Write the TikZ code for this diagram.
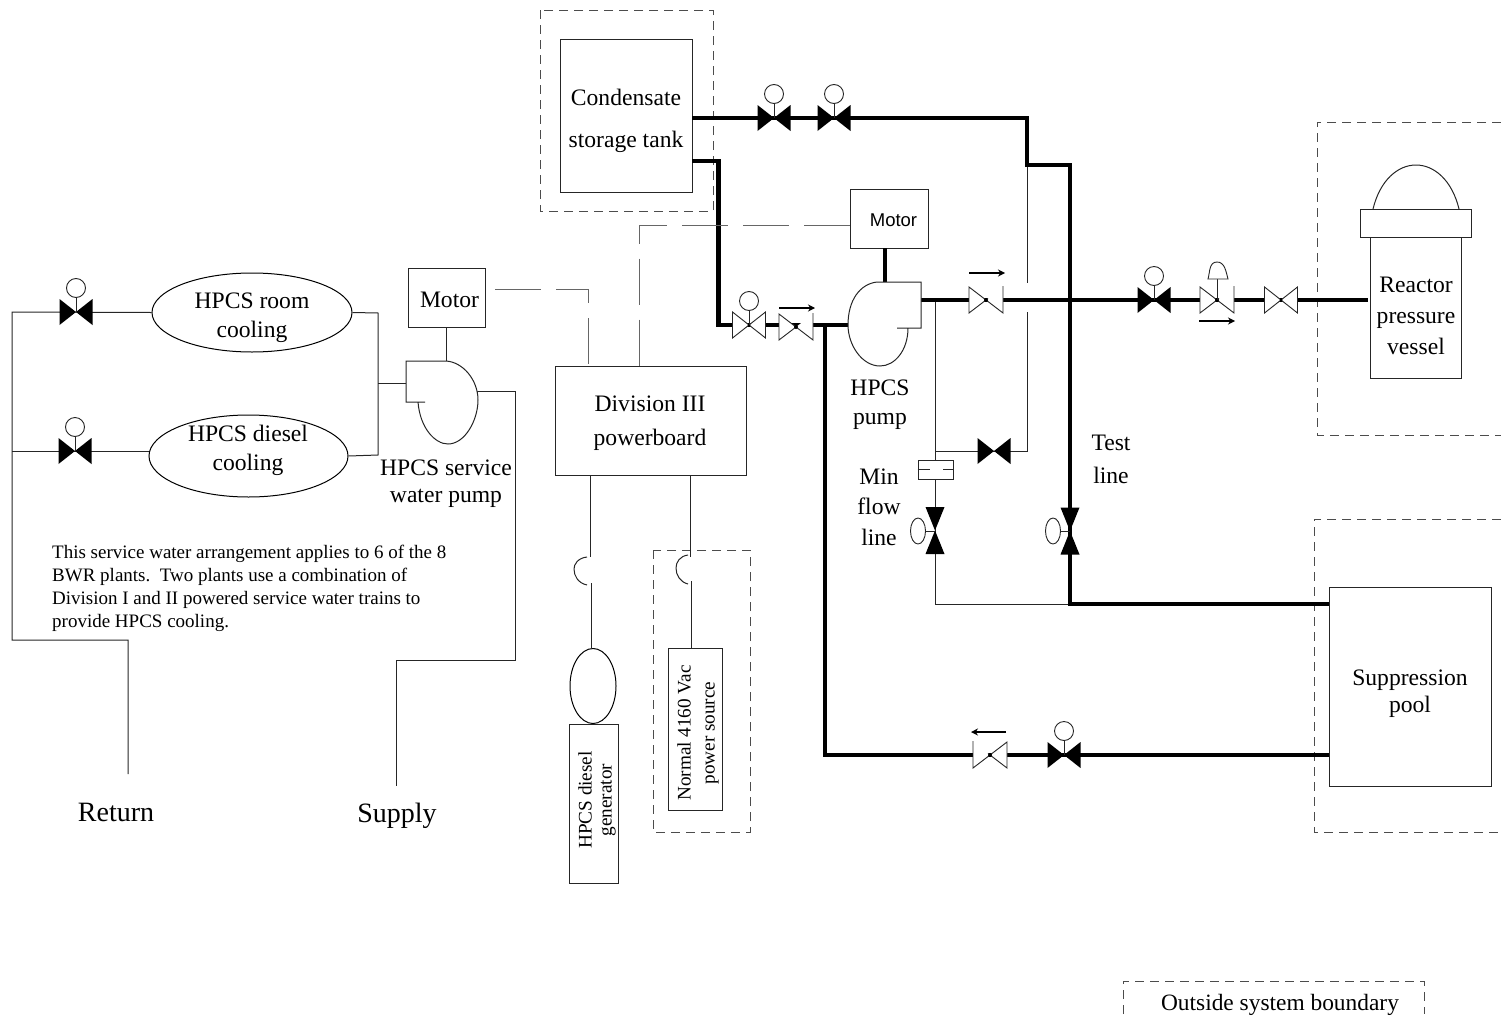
\documentclass[tikz,border=0pt]{standalone}
\usepackage{fontspec}
\usetikzlibrary{arrows.meta,shapes.geometric}
\setmainfont{Liberation Serif}
\newfontfamily\helv{Liberation Sans}
\newcommand{\fsz}[2]{\fontsize{#1}{#2}\selectfont}
\tikzset{
  x=1pt,y=-1pt,
  thin line/.style={line width=1pt,draw=black!85},
  pipe/.style={line width=4.6pt,draw=black,line join=miter},
  bound/.style={line width=1pt,draw=black!70,dash pattern=on 9pt off 6pt},
  signal/.style={line width=1pt,draw=black!60,dash pattern=on 46pt off 15pt},
  box/.style={draw=black!85,line width=1pt,fill=white,inner sep=0pt},
  lbl/.style={inner sep=0pt,align=center},
  flow/.style={line width=1.6pt,-{Stealth[length=7pt,width=7pt]}},
  vfill/.pic={\fill[black] (-16.5,-13)--(16.5,13)--(16.5,-13)--(-16.5,13)--cycle;},
  vfillup/.pic={\fill[black] (-9.5,-23.5)--(9.5,23.5)--(-9.5,23.5)--(9.5,-23.5)--cycle;},
  vopen/.pic={\draw[black!85,line width=.9pt,fill=white] (-16.5,-13)--(16.5,13)--(16.5,-13)--(-16.5,13)--cycle;
     \fill[black] (0,0) circle (1.5pt);},
  vcheck/.pic={\fill[white] (-17,-13)--(17,13)--(17,-13)--(-17,13)--cycle;
     \draw[black!85,line width=.9pt] (17,-14)--(17,13)--(0,0) (0,0)--(-17,-13)--(-17,13)--cycle;
     \fill[black] (0,0) circle (2pt);},
  opcirc/.pic={\draw[black!85,line width=.9pt] (0,0)--(0,-14);
     \draw[black!85,line width=.9pt,fill=white] (0,-24) circle (9.5pt);},
  opside/.pic={\draw[black!85,line width=.9pt] (0,0)--(-10,0);
     \draw[black!85,line width=.9pt,fill=white] (-17,0) ellipse (7.5pt and 13pt);},
}
\begin{document}
\begin{tikzpicture}
\useasboundingbox (0,0) rectangle (1501,1017);

% ---- boundaries
\draw[bound] (540,10) rectangle (713,211);
\draw[bound] (1501,122) -- (1317,122) -- (1317,435) -- (1501,435);
\draw[bound] (1501,519) -- (1314,519) -- (1314,832) -- (1501,832);
\draw[bound] (653,550) rectangle (750,832);
\draw[bound] (1123,1014) -- (1123,981) -- (1424,981) -- (1424,1014);
\node[lbl,font=\fsz{23.4}{28}] (legend) at (1280,1005) {Outside system boundary};

% ---- main boxes
\node[box,minimum width=132pt,minimum height=153pt] (tank) at (626,115.5) {};
\node[box,minimum width=78pt,minimum height=59pt] (motorA) at (889,218.5) {};
\node[box,minimum width=77pt,minimum height=59pt] (motorB) at (446.5,297.5) {};
\node[box,minimum width=191pt,minimum height=109pt] (div) at (650.5,420.5) {};
\node[box,minimum width=49pt,minimum height=159pt] (dg) at (593.5,803.5) {};
\node[box,minimum width=54pt,minimum height=162pt] (normal) at (695,729) {};
\node[box,minimum width=162pt,minimum height=199pt] (pool) at (1410,686.5) {};
\node[box,draw=black,minimum width=200pt,minimum height=79pt,ellipse] (room) at (252,312.5) {};
\node[box,draw=black,minimum width=199pt,minimum height=82pt,ellipse] (diesel) at (248.5,456) {};
\node[box,draw=black,minimum width=46pt,minimum height=75pt,ellipse] (gen) at (593,686) {};

% ---- reactor vessel
\draw[black!85,line width=1pt] (1373,209) .. controls (1380,180) and (1398,165) .. (1416,165) .. controls (1434,165) and (1452,180) .. (1459,209);
\node[box,minimum width=91pt,minimum height=141pt] (rpv) at (1415.5,308) {};
\node[box,minimum width=111pt,minimum height=28pt] (flange) at (1415.5,223) {};

% ---- named pipe points
\coordinate (a1) at (692,118);  \coordinate (a2) at (1027,118); \coordinate (a3) at (1027,165);
\coordinate (a4) at (1070,165); \coordinate (a5) at (1070,604); \coordinate (a6) at (1329,604);
\coordinate (b1) at (692,161);  \coordinate (b2) at (718.5,161); \coordinate (b3) at (718.5,325);
\coordinate (b4) at (850,325);  \coordinate (c1) at (921,300);  \coordinate (c2) at (1368,300);
\coordinate (d1) at (1329,755); \coordinate (d2) at (825,755);  \coordinate (d3) at (825,325);
\coordinate (e1) at (885,248);  \coordinate (e2) at (885,282);
\coordinate (f0) at (935,300);  \coordinate (f1) at (935,604);  \coordinate (f2) at (1070,604);
\coordinate (g0) at (1027,283); \coordinate (g1) at (1027,312); \coordinate (g2) at (1027,451);
\coordinate (g3) at (935,451);

% ---- thin lines of the HPCS loop
\draw[thin line] (a3) -- (g0);
\draw[thin line] (g1) -- (g2) -- (g3);
\draw[thin line] (f0) -- (f1) -- (f2);

% ---- thick pipes
\draw[pipe] (a1) -- (a2) -- (a3) -- (a4) -- (a5) -- (a6);
\draw[pipe] (b1) -- (b2) -- (b3) -- (b4);
\draw[pipe] (c1) -- (c2);
\draw[pipe] (d1) -- (d2) -- (d3);
\draw[pipe] (e1) -- (e2);

% ---- HPCS pump
\draw[black!85,line width=1pt,fill=white] (877,282) -- (921,282) -- (921,328) -- (897,328) (908,328)
  .. controls (908,350) and (895,366) .. (880,366)
  .. controls (862,366) and (848,345) .. (848,325)
  .. controls (848,300) and (860,284) .. (877,282);

% ---- valves, main system
\pic at (774,118) {vfill}; \pic at (774,118) {opcirc};
\pic at (834,118) {vfill}; \pic at (834,118) {opcirc};
\pic at (749,325) {vopen}; \pic at (749,325) {opcirc};
\pic at (796,327) {vcheck};
\draw[flow] (779,308) -- (815,308);
\pic at (986,300) {vcheck};
\draw[flow] (969,273) -- (1005,273);
\pic at (1154,300) {vfill}; \pic at (1154,300) {opcirc};
\pic at (1217,300) {vcheck};
\draw[black!85,line width=.9pt] (1217,300) -- (1217,279);
\draw[black!85,line width=.9pt,fill=white] (1208,279) .. controls (1210,272) and (1209,262) .. (1217,262) .. controls (1225,262) and (1226,272) .. (1228,279) -- cycle;
\draw[flow] (1199,321) -- (1235,321);
\pic at (1281,300) {vopen};
\pic at (994,451) {vfill};
\pic at (1064,755) {vfill}; \pic at (1064,755) {opcirc};
\pic[xscale=-1] at (990,755) {vcheck};
\draw[flow] (1006,732) -- (971,732);
\pic at (935,530.5) {vfillup}; \pic at (935,531) {opside};
\pic at (1070,531) {vfillup}; \pic at (1070,531) {opside};

% ---- flow orifice
\node[box,minimum width=35pt,minimum height=19pt] (orifice) at (935.5,469.5) {};
\draw[black!85,line width=1pt] (orifice.west) -- ++(12,0) (orifice.east) -- ++(-11,0);

% ---- service water side
\coordinate (h0) at (378,313); \coordinate (h1) at (378,455); \coordinate (h2) at (378,383);
\coordinate (i1) at (76,312);  \coordinate (i2) at (12,312);  \coordinate (i3) at (12,640);
\coordinate (i4) at (128,640); \coordinate (i5) at (128,774); \coordinate (i6) at (12,451);
\coordinate (j1) at (477,391); \coordinate (j2) at (515,391); \coordinate (j3) at (515,660);
\coordinate (j4) at (396,660); \coordinate (j5) at (396,786);
\coordinate (k0) at (406,383); \coordinate (k1) at (446,327); \coordinate (k2) at (446,361);
\draw[thin line] (room.east) -- (h0) -- (h1) -- (diesel.east);
\draw[thin line] (h2) -- (k0);
\draw[thin line] (room.west) -- (i2) -- (i3) -- (i4) -- (i5);
\draw[thin line] (diesel.west |- i6) -- (i6);
\draw[thin line] (j1) -- (j2) -- (j3) -- (j4) -- (j5);
\draw[thin line] (k1) -- (k2);
\draw[black!85,line width=1pt,fill=white] (446,361) -- (406,361) -- (406,402) -- (425,402) (418,402)
  .. controls (420,428) and (435,444) .. (448,444)
  .. controls (465,444) and (478,420) .. (478,400)
  .. controls (478,380) and (463,362) .. (446,361);
\pic at (76,312) {vfill}; \pic at (76,312) {opcirc};
\pic at (75,451) {vfill}; \pic at (75,451) {opcirc};

% ---- signal lines
\coordinate (s1) at (495,289); \coordinate (s2) at (588,289);
\draw[signal] (s1) -- (s2) -- (s2 |- div.north);
\coordinate (s3) at (639,225);
\draw[signal] (motorA.west |- s3) -- (s3) -- (s3 |- div.north);

% ---- power feeds with breakers
\coordinate (m1) at (590,475); \coordinate (m2) at (590,557); \coordinate (m3) at (591,583);
\coordinate (n1) at (690,475); \coordinate (n2) at (690,557); \coordinate (n3) at (691,581);
\draw[thin line] (m1) -- (m2);
\draw[thin line] (m3) -- (gen.north -| m3);
\draw[thin line] (n1) -- (n2);
\draw[thin line] (n3) -- (normal.north -| n3);
\draw[black!85,line width=1pt] (587,557) .. controls (578,558) and (574,564) .. (574,569) .. controls (574,576) and (578,583) .. (587,585);
\draw[black!85,line width=1pt] (688,555) .. controls (680,556) and (676,562) .. (676,568) .. controls (676,575) and (680,582) .. (688,584);

% ---- labels
\node[lbl,font=\fsz{23.6}{42}] (tankT) at (626,121) {Condensate\\storage tank};
\node[lbl,font=\helv\fsz{18.5}{20}] (motorAT) at (893.5,220) {Motor};
\node[lbl,font=\fsz{23.6}{26}] (motorBT) at (449.5,300) {Motor};
\node[lbl,font=\fsz{23.6}{29}] (roomT) at (252,317.5) {HPCS room\\cooling};
\node[lbl,font=\fsz{23.6}{29}] (dieselT) at (248,450.5) {HPCS diesel\\cooling};
\node[lbl,font=\fsz{23.6}{27}] (swpT) at (446,484) {HPCS service\\water pump};
\node[lbl,font=\fsz{23.6}{34}] (divT) at (650,423) {Division III\\powerboard};
\node[lbl,font=\fsz{23.6}{29}] (pumpT) at (880,405) {HPCS\\pump};
\node[lbl,font=\fsz{23.6}{30.5}] (minT) at (879,507) {Min\\flow\\line};
\node[lbl,font=\fsz{23.6}{33}] (testT) at (1111,459.5) {Test\\line};
\node[lbl,font=\fsz{23.6}{31}] (rpvT) at (1416,316) {Reactor\\pressure\\vessel};
\node[lbl,font=\fsz{23.6}{27.5}] (poolT) at (1410,693.5) {Suppression\\pool};
\node[lbl,font=\fsz{28}{32}] (retT) at (116,812) {Return};
\node[lbl,font=\fsz{28}{32}] (supT) at (397,816) {Supply};
\node[lbl,align=left,anchor=north west,font=\fsz{19}{23}] (noteT) at (52,544.5)
  {This service water arrangement applies to 6 of the 8\\
   BWR plants.\ \ Two plants use a combination of\\
   Division I and II powered service water trains to\\
   provide HPCS cooling.};
\node[lbl,rotate=90,font=\fsz{19.2}{20}] (dgT) at (597,800) {HPCS diesel\\generator};
\node[lbl,rotate=90,font=\fsz{19.2}{24}] (normalT) at (698,733) {Normal 4160 Vac\\power source};
\end{tikzpicture}
\end{document}
